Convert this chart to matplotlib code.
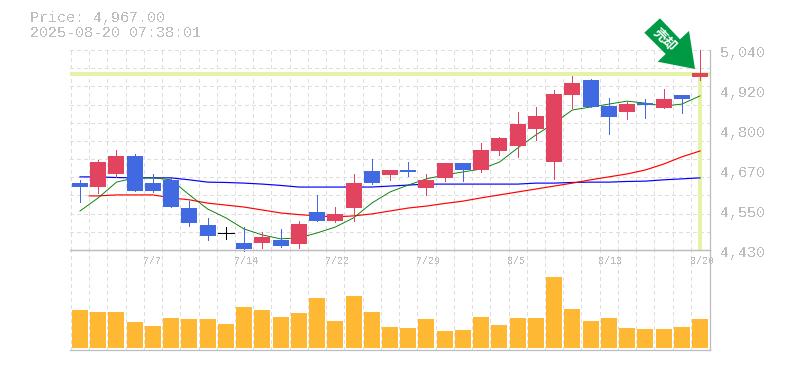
"""Daily candle chart with moving averages and volume panel."""

import matplotlib
matplotlib.use("Agg")
import matplotlib.pyplot as plt
import numpy as np
from matplotlib.patches import Polygon

plt.rcParams["text.antialiased"] = False

W, H = 785, 370

opens = [4634, 4622, 4662, 4717, 4634, 4643, 4558, 4506, 4482, 4451, 4451, 4460,
         4448, 4546, 4518, 4558, 4671, 4659, 4674, 4619, 4650, 4695, 4674, 4732,
         4747, 4799, 4698, 4903, 4948, 4869, 4851, 4878, 4863, 4903, 4958]
highs = [4644, 4704, 4735, 4723, 4662, 4650, 4580, 4528, 4500, 4500, 4485, 4494,
         4518, 4598, 4561, 4662, 4708, 4674, 4698, 4662, 4695, 4695, 4756, 4775,
         4851, 4866, 4918, 4961, 4952, 4894, 4881, 4891, 4921, 4903, 5040]
lows = [4576, 4604, 4653, 4610, 4607, 4561, 4503, 4460, 4464, 4427, 4436, 4439,
        4436, 4518, 4515, 4518, 4631, 4644, 4656, 4598, 4640, 4640, 4668, 4720,
        4714, 4766, 4647, 4863, 4866, 4784, 4830, 4833, 4863, 4848, 4948]
closes = [4622, 4698, 4717, 4610, 4610, 4561, 4512, 4473, 4482, 4433, 4470, 4442,
          4509, 4518, 4540, 4634, 4634, 4674, 4668, 4644, 4695, 4674, 4735, 4772,
          4814, 4839, 4906, 4939, 4866, 4836, 4875, 4872, 4891, 4891, 4970]
volumes = [38, 36, 36, 26, 22, 30, 29, 29, 24, 41, 38, 31, 35, 50, 27, 52, 36, 21,
           20, 29, 17, 18, 31, 23, 30, 30, 71, 39, 27, 30, 20, 19, 19, 21, 29]

ma5 = [4549, 4589, 4637, 4650, 4650, 4644, 4598, 4555, 4528, 4494, 4476, 4464,
       4467, 4482, 4500, 4528, 4573, 4607, 4628, 4647, 4659, 4668, 4677, 4698,
       4741, 4781, 4817, 4857, 4866, 4875, 4884, 4878, 4869, 4875, 4900]
ma25 = [4595, 4595, 4598, 4598, 4598, 4589, 4583, 4573, 4567, 4561, 4552, 4543,
        4538, 4534, 4531, 4534, 4540, 4549, 4558, 4564, 4572, 4579, 4589, 4598,
        4607, 4616, 4625, 4634, 4644, 4653, 4662, 4674, 4692, 4714, 4732]
ma75 = [4653, 4653, 4651, 4650, 4650, 4650, 4644, 4637, 4636, 4634, 4631, 4627,
        4622, 4622, 4622, 4622, 4622, 4625, 4628, 4631, 4631, 4631, 4631, 4631,
        4631, 4634, 4634, 4636, 4637, 4637, 4639, 4640, 4644, 4647, 4650]

price_now = 4967
price_ticks = [5040, 4920, 4800, 4670, 4550, 4430]
date_idx = [4, 9, 14, 19, 24, 29, 34]
date_labels = ["7/7", "7/14", "7/22", "7/29", "8/5", "8/13", "8/20"]

RED = "#e2435f"
BLUE = "#4169e1"
GREY = "#bdbdbd"
GRID = "#dedede"
MONO = "Liberation Mono"

n = len(opens)
xs = np.arange(n)
xlim = (-0.548, n - 1 + 0.548)
ylim = (4430, 5040)
grid_dash = (0, (3, 3))

fig = plt.figure(figsize=(W / 100, H / 100), dpi=100)
ax = fig.add_axes([70 / W, 1 - 250 / H, 640 / W, 200 / H])
vax = fig.add_axes([70 / W, 1 - 350 / H, 640 / W, 100 / H])

for a in (ax, vax):
    a.set_xlim(*xlim)
    a.set_xticks([])
    a.set_yticks([])
    a.patch.set_alpha(0)
    for spine in ("left", "top"):
        a.spines[spine].set_visible(False)
    for spine in ("right", "bottom"):
        a.spines[spine].set_color(GREY)
        a.spines[spine].set_linewidth(0.9)
    for x in xs - 0.5:
        a.axvline(x, color=GRID, lw=0.72, ls=grid_dash, zorder=0, antialiased=False)
vax.spines["top"].set_visible(True)
vax.spines["top"].set_color(GREY)
vax.spines["top"].set_linewidth(0.9)
ax.set_ylim(*ylim)
vax.set_ylim(-2, 98)

for y in np.linspace(ylim[0], ylim[1], 12)[1:]:
    ax.axhline(y, color=GRID, lw=0.72, ls=grid_dash, zorder=0, antialiased=False)

# current price marker
ax.axhline(price_now, color="#e4f3a8", lw=2.6, zorder=1, antialiased=False)
ax.plot([xs[-1], xs[-1]], [ylim[0], price_now], color="#e4f3a8", lw=2.6, zorder=1,
        solid_capstyle="butt", antialiased=False)

ax.plot(xs, ma75, color="#0000ff", lw=0.85, zorder=2)
ax.plot(np.r_[0.5, xs[1:]], ma25, color="#ff0000", lw=0.85, zorder=2)
ax.plot(xs, ma5, color="#007a00", lw=0.65, zorder=2)

for i in range(n):
    o, hi, lo, c = opens[i], highs[i], lows[i], closes[i]
    color = "black" if o == c else (RED if c > o else BLUE)
    ax.plot([i, i], [lo, hi], color=color, lw=0.72, zorder=3, clip_on=False,
            solid_capstyle="butt", antialiased=False)
    if o == c:
        ax.plot([i - 0.44, i + 0.44], [o, o], color=color, lw=0.72, zorder=3,
                solid_capstyle="butt", antialiased=False)
    else:
        ax.bar(i, abs(c - o), bottom=min(o, c), width=0.88, color=color, zorder=3)

vax.bar(xs, volumes, width=0.88, color="#ffb833", zorder=2)

for label, tick in zip(price_ticks, np.linspace(ylim[1], ylim[0], len(price_ticks))):
    ax.annotate(f"{label:,}", xy=(1, tick), xycoords=("axes fraction", "data"),
                xytext=(7.2, -2.2), textcoords="offset points", va="center", ha="left",
                color=GREY, fontsize=10.8, family=MONO, annotation_clip=False)
for i, label in zip(date_idx, date_labels):
    vax.text(i - 0.55, 87, label, color=GREY, fontsize=7.2, family=MONO,
             ha="left", va="center", clip_on=False)

fig.text(30 / W, 1 - 18 / H, "Price: 4,967.00", color=GREY, fontsize=10.8, family=MONO,
         va="center")
fig.text(30 / W, 1 - 33 / H, "2025-08-20 07:38:01", color=GREY, fontsize=10.8, family=MONO,
         va="center")

# sell arrow, pixel outline from the top left corner
arrow_px = [(660, 18.3), (644.3, 32.7), (665.7, 54), (657.7, 61.7), (695, 69), (689, 31),
            (680, 39.3)]
arrow = Polygon([(x / W, 1 - y / H) for x, y in arrow_px], closed=True, facecolor="#009944",
                edgecolor="none", transform=fig.transFigure, zorder=5)
fig.add_artist(arrow)
fig.text(665 / W, 1 - 40 / H, "売却", color="white", fontsize=9.5, rotation=-45, ha="center",
         va="center", family=["Noto Sans CJK JP", "DejaVu Sans"], fontweight="bold", zorder=6,
         rotation_mode="anchor", antialiased=True)

fig.savefig("out.png", dpi=100)
